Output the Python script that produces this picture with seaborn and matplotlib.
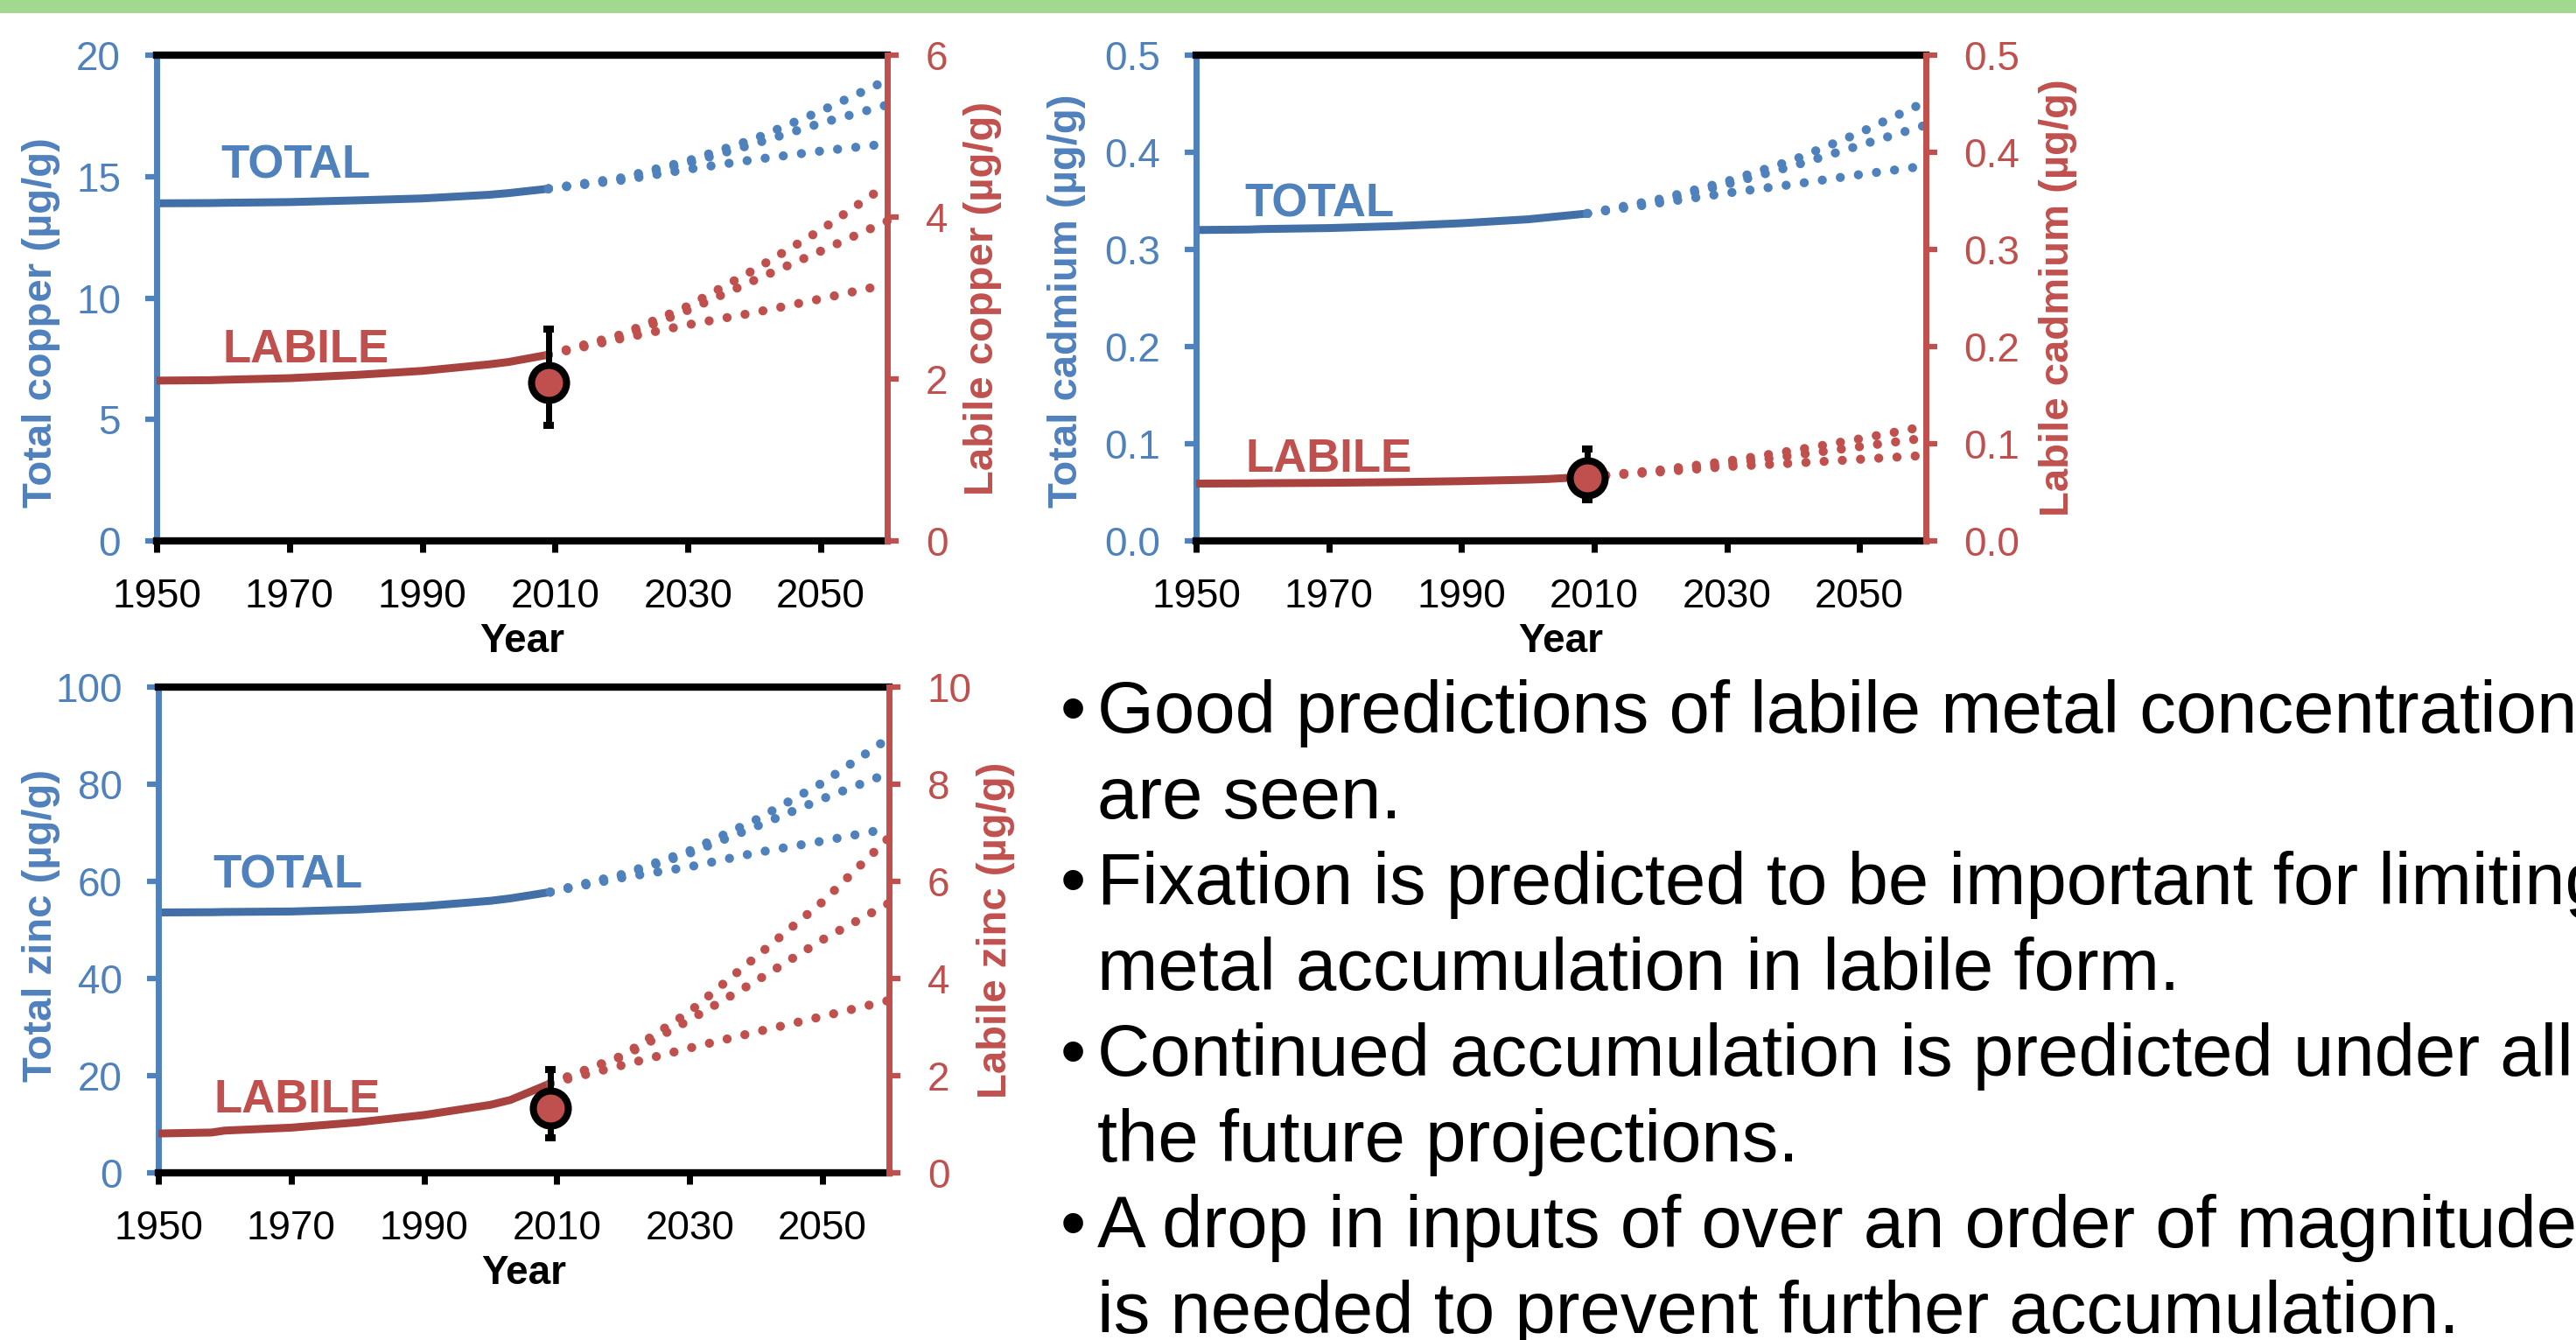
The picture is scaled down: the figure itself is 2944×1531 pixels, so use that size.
import matplotlib
matplotlib.use("Agg")
import matplotlib.pyplot as plt
import seaborn as sns

# ---------------- data ----------------
hist_years = [1950, 1958, 1960, 1970, 1980, 1990, 2000, 2003, 2009]
proj_years = [2009, 2020, 2030, 2040, 2050, 2060]
xtick_values = [1950, 1970, 1990, 2010, 2030, 2050]

# copper
cu_total_hist = [13.9, 13.91, 13.92, 13.95, 14.02, 14.1, 14.25, 14.32, 14.5]
cu_labile_hist = [1.98, 1.985, 1.99, 2.01, 2.05, 2.10, 2.18, 2.21, 2.30]
cu_total_high = [14.5, 14.95, 15.65, 16.55, 17.7, 18.97]
cu_total_mid = [14.5, 14.9, 15.55, 16.35, 17.2, 17.95]
cu_total_low = [14.5, 14.85, 15.3, 15.7, 16.05, 16.35]
cu_labile_high = [2.30, 2.55, 2.9, 3.35, 3.84, 4.40]
cu_labile_mid = [2.30, 2.52, 2.85, 3.22, 3.58, 3.95]
cu_labile_low = [2.30, 2.50, 2.67, 2.82, 2.99, 3.17]
cu_obs_year, cu_obs_val, cu_obs_lo, cu_obs_hi = 2009, 1.96, 1.43, 2.62
cu_total_ticks = [0, 5, 10, 15, 20]
cu_total_ticklabels = ["0", "5", "10", "15", "20"]
cu_labile_ticks = [0, 2, 4, 6]
cu_labile_ticklabels = ["0", "2", "4", "6"]

# cadmium
cd_total_hist = [0.320, 0.3205, 0.321, 0.322, 0.324, 0.327, 0.331, 0.333, 0.337]
cd_labile_hist = [0.059, 0.0592, 0.0594, 0.0598, 0.0605, 0.0615, 0.063, 0.0637, 0.066]
cd_total_high = [0.337, 0.352, 0.370, 0.392, 0.420, 0.452]
cd_total_mid = [0.337, 0.350, 0.367, 0.386, 0.407, 0.428]
cd_total_low = [0.337, 0.348, 0.358, 0.367, 0.377, 0.386]
cd_labile_high = [0.066, 0.073, 0.082, 0.093, 0.105, 0.118]
cd_labile_mid = [0.066, 0.072, 0.079, 0.088, 0.097, 0.106]
cd_labile_low = [0.066, 0.071, 0.0765, 0.080, 0.084, 0.088]
cd_obs_year, cd_obs_val, cd_obs_lo, cd_obs_hi = 2009, 0.065, 0.0423, 0.0946
cd_ticks = [0.0, 0.1, 0.2, 0.3, 0.4, 0.5]
cd_ticklabels = ["0.0", "0.1", "0.2", "0.3", "0.4", "0.5"]

# zinc
zn_total_hist = [53.6, 53.65, 53.7, 53.8, 54.2, 54.9, 56.0, 56.5, 57.8]
zn_labile_hist = [0.81, 0.83, 0.87, 0.93, 1.04, 1.19, 1.40, 1.50, 1.84]
zn_total_high = [57.8, 61.5, 66.3, 72.7, 80.3, 89.5]
zn_total_mid = [57.8, 61.3, 65.8, 71.3, 77.0, 82.3]
zn_total_low = [57.8, 60.8, 63.0, 65.9, 68.3, 70.9]
zn_labile_high = [1.84, 2.42, 3.32, 4.45, 5.58, 6.90]
zn_labile_mid = [1.84, 2.40, 3.15, 3.95, 4.80, 5.55]
zn_labile_low = [1.84, 2.22, 2.57, 2.90, 3.22, 3.55]
zn_obs_year, zn_obs_val, zn_obs_lo, zn_obs_hi = 2009, 1.33, 0.72, 2.13
zn_total_ticks = [0, 20, 40, 60, 80, 100]
zn_total_ticklabels = ["0", "20", "40", "60", "80", "100"]
zn_labile_ticks = [0, 2, 4, 6, 8, 10]
zn_labile_ticklabels = ["0", "2", "4", "6", "8", "10"]

bullets = [
    ("•", "Good predictions of labile metal concentrations"),
    ("", "are seen."),
    ("•", "Fixation is predicted to be important for limiting"),
    ("", "metal accumulation in labile form."),
    ("•", "Continued accumulation is predicted under all"),
    ("", "the future projections."),
    ("•", "A drop in inputs of over an order of magnitude"),
    ("", "is needed to prevent further accumulation."),
]

# ---------------- style ----------------
sns.set_theme(style="white")
plt.rcParams["font.family"] = ["Liberation Sans", "DejaVu Sans"]

BLUE = "#4f81bd"
BLUE_DARK = "#416fa6"
RED = "#c0504d"
RED_DARK = "#a8423f"
W, H = 2944, 1531

fig = plt.figure(figsize=(W / 100, H / 100), dpi=100)
fig.patch.set_facecolor("white")

# green band on top
fig.add_artist(plt.Rectangle((0, 1 - 15 / H), 1, 15 / H, transform=fig.transFigure,
                             color="#a3d98f", lw=0))

DOT = (0, (0.001, 2.0))


def panel(rect, t_hist, l_hist, t_proj, l_proj, obs, t_lim, t_ticks, t_labels,
          l_lim, l_ticks, l_labels, t_name, l_name, total_pos, labile_pos,
          lab_y_left, lab_y_right, lab_x_left, lab_x_right):
    ax = fig.add_axes(rect)
    ax2 = ax.twinx()
    ax.set_facecolor("none")
    # historic solid lines
    sns.lineplot(x=hist_years, y=t_hist, ax=ax, color=BLUE_DARK, lw=6.5,
                 solid_capstyle="round", legend=False)
    sns.lineplot(x=hist_years, y=l_hist, ax=ax2, color=RED_DARK, lw=6.5,
                 solid_capstyle="round", legend=False)
    # projections
    for vals in t_proj:
        sns.lineplot(x=proj_years, y=vals, ax=ax, color=BLUE, lw=7.5,
                     linestyle=DOT, dash_capstyle="round", legend=False, clip_on=False)
    for vals in l_proj:
        sns.lineplot(x=proj_years, y=vals, ax=ax2, color=RED, lw=7.5,
                     linestyle=DOT, dash_capstyle="round", legend=False, clip_on=False)
    # observation
    yr, v, lo, hi = obs
    ax2.errorbar([yr], [v], yerr=[[v - lo], [hi - v]], fmt="o", ms=28.8,
                 mfc=RED, mec="black", mew=5.8, ecolor="black", elinewidth=5,
                 capsize=4.5, capthick=6, zorder=10, clip_on=False)

    ax.set_xlim(1950, 2060)
    ax.set_ylim(*t_lim)
    ax2.set_ylim(*l_lim)
    ax.set_xticks(xtick_values, labels=[str(x) for x in xtick_values])
    ax.set_yticks(t_ticks, labels=t_labels)
    ax2.set_yticks(l_ticks, labels=l_labels)

    # spines
    for s in ["top", "bottom"]:
        ax.spines[s].set_color("black")
        ax.spines[s].set_linewidth(6)
    ax.spines["left"].set_color(BLUE)
    ax.spines["left"].set_linewidth(5)
    ax.spines["right"].set_visible(False)
    for s in ["top", "bottom", "left"]:
        ax2.spines[s].set_visible(False)
    ax2.spines["right"].set_visible(True)
    ax2.spines["right"].set_color(RED)
    ax2.spines["right"].set_linewidth(5)

    ax.tick_params(axis="x", bottom=True, top=False, direction="out", length=9.5,
                   width=5, color="black", labelsize=33, labelcolor="black", pad=21)
    ax.tick_params(axis="y", left=True, right=False, direction="out", length=9.5,
                   width=4.5, color=BLUE, labelsize=33, labelcolor=BLUE, pad=20)
    ax2.tick_params(axis="y", right=True, left=False, direction="out", length=9.5,
                    width=4.5, color=RED, labelsize=33, labelcolor=RED, pad=22)

    ax.set_xlabel("Year", fontsize=33, fontweight="bold", color="black", va="center")
    ax.xaxis.set_label_coords(0.5, -0.208)
    ax.set_ylabel(t_name, fontsize=34, fontweight="bold", color=BLUE,
                  va="center", ha="center", rotation=90, rotation_mode="default")
    ax.yaxis.set_label_coords(lab_x_left, lab_y_left)
    ax2.set_ylabel(l_name, fontsize=34, fontweight="bold", color=RED,
                   va="center", ha="center", rotation=90, rotation_mode="default")
    ax2.yaxis.set_label_coords(lab_x_right, lab_y_right)

    ax.text(total_pos[0], total_pos[1], "TOTAL", color=BLUE, fontsize=38,
            fontweight="bold", ha="left", va="center_baseline")
    ax.text(labile_pos[0], labile_pos[1], "LABILE", color=RED, fontsize=38,
            fontweight="bold", ha="left", va="center_baseline")
    ax.grid(False)
    ax2.grid(False)
    return ax, ax2


panel([179 / W, 1 - 618 / H, 835 / W, 555 / H],
      cu_total_hist, cu_labile_hist,
      [cu_total_high, cu_total_mid, cu_total_low],
      [cu_labile_high, cu_labile_mid, cu_labile_low],
      (cu_obs_year, cu_obs_val, cu_obs_lo, cu_obs_hi),
      (0, 20), cu_total_ticks, cu_total_ticklabels,
      (0, 6), cu_labile_ticks, cu_labile_ticklabels,
      "Total copper (µg/g)", "Labile copper (µg/g)",
      (1959.7, 15.64), (1960.0, 8.04), 0.45, 0.50, -0.158, 1.13)

panel([1367 / W, 1 - 618 / H, 834 / W, 555 / H],
      cd_total_hist, cd_labile_hist,
      [cd_total_high, cd_total_mid, cd_total_low],
      [cd_labile_high, cd_labile_mid, cd_labile_low],
      (cd_obs_year, cd_obs_val, cd_obs_lo, cd_obs_hi),
      (0, 0.5), cd_ticks, cd_ticklabels,
      (0, 0.5), cd_ticks, cd_ticklabels,
      "Total cadmium (µg/g)", "Labile cadmium (µg/g)",
      (1957.3, 0.351), (1957.5, 0.0883), 0.495, 0.50, -0.177, 1.181)

panel([181 / W, 1 - 1340 / H, 835 / W, 555 / H],
      zn_total_hist, zn_labile_hist,
      [zn_total_high, zn_total_mid, zn_total_low],
      [zn_labile_high, zn_labile_mid, zn_labile_low],
      (zn_obs_year, zn_obs_val, zn_obs_lo, zn_obs_hi),
      (0, 100), zn_total_ticks, zn_total_ticklabels,
      (0, 10), zn_labile_ticks, zn_labile_ticklabels,
      "Total zinc (µg/g)", "Labile zinc (µg/g)",
      (1958.2, 62.2), (1958.4, 15.9), 0.51, 0.50, -0.160, 1.146)

# bullet text (it runs past the right edge, as in the reference)
for i, (b, line) in enumerate(bullets):
    base = 837 + i * 98
    if b:
        fig.text(1212 / W, 1 - base / H, b, fontsize=60, color="black",
                 ha="left", va="baseline")
    fig.text(1254 / W, 1 - base / H, line, fontsize=60, color="black",
             ha="left", va="baseline")

fig.savefig("out.png", dpi=100)
